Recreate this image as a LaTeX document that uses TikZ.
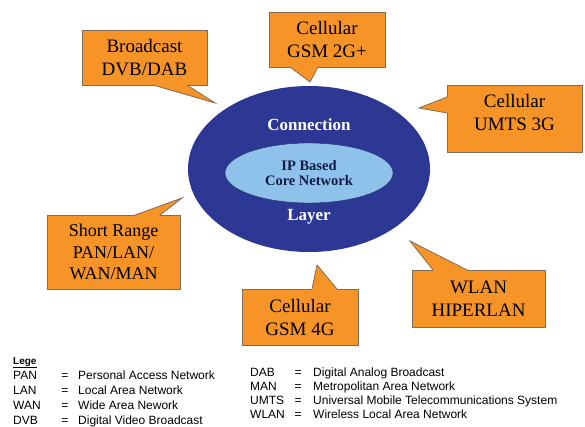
\documentclass[tikz,border=0pt]{standalone}
\usepackage{fontspec}
\setmainfont{Liberation Serif}
\newfontfamily\legendfont{Liberation Sans}
\usepackage{tikz}
\usetikzlibrary{shapes.geometric}
\usetikzlibrary{calc}

\definecolor{outerblue}{RGB}{44,56,148}
\definecolor{innerblue}{RGB}{142,194,234}
\definecolor{corenavy}{RGB}{18,26,70}
\definecolor{callorange}{RGB}{246,148,40}
\definecolor{callborder}{RGB}{128,108,88}

% tail of a speech box: base point, tip, base point, shift into the box
\newcommand{\calltail}[4]{%
	\fill[callorange] ($(#1)+#4$) -- (#1) -- (#2) -- (#3) -- ($(#3)+#4$) -- cycle;
	\draw[callborder, line width=0.8pt, line join=miter] (#1) -- (#2) -- (#3);}

\tikzset{
	callbox/.style={draw=callborder, fill=callorange, line width=0.8pt, align=center,
		font=\fontsize{19}{23}\selectfont, inner sep=0pt},
	ringtext/.style={text=white, font=\bfseries\fontsize{17}{20}\selectfont},
	legabbr/.style={anchor=base west, inner sep=0pt, font=\legendfont\fontsize{12}{14}\selectfont},
	legeq/.style={anchor=base, inner sep=0pt, font=\legendfont\fontsize{12}{14}\selectfont},
}

\begin{document}
\begin{tikzpicture}[x=1pt, y=-1pt]
		\useasboundingbox[fill=white] (0,0) rectangle (585,426);
		%coordinates
		\coordinate (bcastA) at (153,85);
		\coordinate (bcastT) at (215,103);
		\coordinate (bcastB) at (187,85);
		\coordinate (gsmtwoA) at (290,67);
		\coordinate (gsmtwoT) at (310,82);
		\coordinate (gsmtwoB) at (318,67);
		\coordinate (umtsA) at (447,97);
		\coordinate (umtsT) at (419,108);
		\coordinate (umtsB) at (447,113);
		\coordinate (shortA) at (135,215);
		\coordinate (shortT) at (182,198);
		\coordinate (shortB) at (160,215);
		\coordinate (gsmfourA) at (312,289);
		\coordinate (gsmfourT) at (317,265);
		\coordinate (gsmfourB) at (337,289);
		\coordinate (wlanA) at (433,270);
		\coordinate (wlanT) at (410,241);
		\coordinate (wlanB) at (467,270);
		
		%layers
		\node[ellipse, fill=outerblue, minimum width=242pt, minimum height=166pt, inner sep=0pt] (conn) at (309,169) {};
		\node[ellipse, fill=innerblue, draw=outerblue!70!black, line width=0.4pt, minimum width=168pt, minimum height=60pt,
			inner sep=0pt, align=center, text=corenavy, font=\bfseries\fontsize{14.5}{15}\selectfont] (core) at (309,173) {IP Based\\Core Network};
		\node[ringtext] (conntop) at (309,125) {Connection};
		\node[ringtext] (connbot) at (309,217) {Layer};
		
		%speech boxes
		\node[callbox, minimum width=125pt, minimum height=55pt] (bcast) at (144.5,57.5) {Broadcast\\DVB/DAB};
		\node[callbox, minimum width=116pt, minimum height=55pt] (gsmtwo) at (327,39.5) {Cellular\\GSM 2G+};
		\node[callbox, minimum width=135pt, minimum height=67pt, text depth=12pt] (umts) at (514.5,118.5) {Cellular\\UMTS 3G};
		\node[callbox, minimum width=133pt, minimum height=74pt, font=\fontsize{18}{21.5}\selectfont] (short) at (113.5,252) {Short Range\\PAN/LAN/\\WAN/MAN};
		\node[callbox, minimum width=116pt, minimum height=56pt] (gsmfour) at (300,317) {Cellular\\GSM 4G};
		\node[callbox, minimum width=133pt, minimum height=57pt] (wlan) at (478.5,298.5) {WLAN\\HIPERLAN};
		
		\calltail{bcastA}{bcastT}{bcastB}{(0,-1.5)}
		\calltail{gsmtwoA}{gsmtwoT}{gsmtwoB}{(0,-1.5)}
		\calltail{umtsA}{umtsT}{umtsB}{(1.5,0)}
		\calltail{shortA}{shortT}{shortB}{(0,1.5)}
		\calltail{gsmfourA}{gsmfourT}{gsmfourB}{(0,1.5)}
		\calltail{wlanA}{wlanT}{wlanB}{(0,1.5)}
		
		%legend
		\node[legabbr, font=\legendfont\bfseries\fontsize{10}{11}\selectfont] (legtitle) at (13,364) {\underline{Lege}};
		\foreach \abbr/\full [count=\i] in {PAN/Personal Access Network, LAN/Local Area Network,
			WAN/Wide Area Nework, DVB/Digital Video Broadcast}
		{
			\node[legabbr] (labbr\i) at (13,379+15.3*\i-15.3) {\abbr};
			\node[legeq] (leq\i) at (65,379+15.3*\i-15.3) {=};
			\node[legabbr] (lfull\i) at (78,379+15.3*\i-15.3) {\full};
		}
		\foreach \abbr/\full [count=\i] in {DAB/Digital Analog Broadcast, MAN/Metropolitan Area Network,
			UMTS/Universal Mobile Telecommunications System, WLAN/Wireless Local Area Network}
		{
			\node[legabbr] (rabbr\i) at (250,376+14.3*\i-14.3) {\abbr};
			\node[legeq] (req\i) at (298,376+14.3*\i-14.3) {=};
			\node[legabbr] (rfull\i) at (313,376+14.3*\i-14.3) {\full};
		}
\end{tikzpicture}
\end{document}
